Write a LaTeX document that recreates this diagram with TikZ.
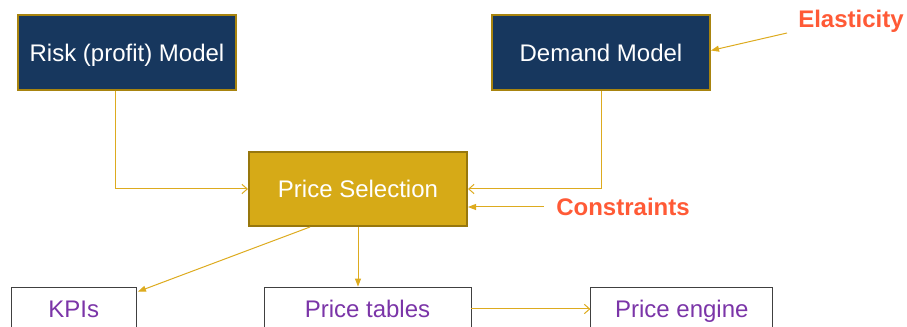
\documentclass[tikz,border=0pt]{standalone}
\usepackage{fontspec}
\setmainfont{Liberation Sans}
\usepackage{xcolor}
\usetikzlibrary{arrows.meta,positioning,calc}
\definecolor{navy}{HTML}{17375E}
\definecolor{goldline}{HTML}{A8840F}
\definecolor{gold}{HTML}{D6AA17}
\definecolor{wire}{HTML}{DDAB1F}
\definecolor{accent}{HTML}{FF5A36}
\definecolor{violet}{HTML}{7B35A8}
\definecolor{frame}{HTML}{404040}

\begin{document}
\begin{tikzpicture}[
  x=0.75pt, y=-0.75pt,
  font=\fontsize{18}{21.6}\selectfont,
  every node/.style={text height=12.9pt, text depth=0pt},
  model/.style={draw=goldline, fill=navy, line width=1.5pt, text=white, minimum width=163.5pt, minimum height=56.25pt, inner sep=0pt},
  choice/.style={draw=goldline!90!black, fill=gold, line width=1.5pt, text=white, minimum width=163.5pt, minimum height=55.5pt, inner sep=0pt},
  output/.style={draw=frame, line width=0.6pt, text=violet, minimum height=33pt, inner sep=0pt},
  factor/.style={text=accent, font=\fontsize{18}{21.6}\selectfont\bfseries, inner sep=0pt},
  arr/.style={-{Triangle[length=6pt,width=4.5pt]}, wire, line width=0.75pt},
  arrin/.style={-{Straight Barb[length=4pt,width=7pt]}, wire, line width=0.75pt}
]
\useasboundingbox (0,0) rectangle (907,327);

% models and selection
\node[model] (risk) at (127,52.5) {Risk (profit) Model};
\node[model, right=190.5pt of risk] (demand) {Demand Model};
\node[choice] (ps) at (358,189) {Price Selection};

% outside factors
\node[factor] (elast) at (851,19) {Elasticity};
\node[factor] (cons) at (623,207) {Constraints};
\coordinate (elastin) at (787,33);

% outputs
\node[output, minimum width=155.25pt] (tables) at (367.5,309) {Price tables};
\node[output, minimum width=136.5pt, right=89.25pt of tables] (engine) {Price engine};
\node[output, minimum width=93.75pt, left=95.25pt of tables] (kpi) {KPIs};

\draw[arrin] ([xshift=-9pt]risk.south) |- (ps.west);
\draw[arrin] (demand.south) |- (ps.east);
\draw[arr] (elastin) -- ([yshift=1.5pt]demand.east);
\draw[arr] ([xshift=-9pt]cons.west) -- (ps.east |- cons.west);
\draw[arr] ([xshift=-36pt]ps.south) -- ([shift={(1pt,-3.75pt)}]kpi.north east);
\draw[arr] (ps.south) -- (ps.south |- tables.north);
\draw[arrin] (tables.east) -- (engine.west);
\end{tikzpicture}
\end{document}
